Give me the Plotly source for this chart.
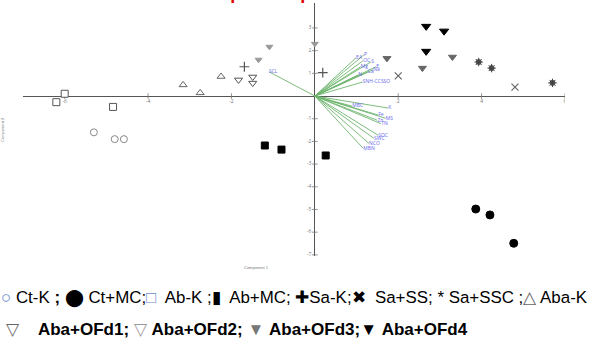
import plotly.graph_objects as go

# ---- sample scores (Component 1, Component 2) ----
ctk_x = [-5.3, -4.8, -4.58]
ctk_y = [-1.6, -1.9, -1.9]
ctmc_x = [3.86, 4.2, 4.77]
ctmc_y = [-4.98, -5.24, -6.49]
abk_x = [-6.0, -6.2, -4.84]
abk_y = [0.1, -0.27, -0.48]
abmc_x = [-1.2, -0.8, 0.26]
abmc_y = [-2.18, -2.36, -2.62]
sak_x = [-1.69, 0.19]
sak_y = [1.29, 1.03]
sass_x = [2.0, 4.8]
sass_y = [0.89, 0.39]
sassc_x = [3.93, 4.24, 5.7]
sassc_y = [1.5, 1.23, 0.58]
abak_x = [-3.16, -2.75, -2.25]
abak_y = [0.49, 0.14, 0.86]
ofd1_x = [-1.83, -1.49, -1.49]
ofd1_y = [0.71, 0.84, 0.57]
ofd2_x = [-1.09, -1.35, 0.0]
ofd2_y = [2.17, 1.6, 2.3]
ofd3_x = [1.73, 3.3, 2.58]
ofd3_y = [1.66, 1.72, 1.23]
ofd4_x = [2.67, 3.1, 2.67]
ofd4_y = [3.07, 2.86, 1.97]

# ---- variable loadings ----
load_names = ["EA", "P", "OC", "S", "E", "Mg", "Na", "Ca", "N", "SNH-CCSSO",
              "MBC", "K", "Fe", "MS", "Zn", "TN", "SOC", "SWC", "NCO", "MBN", "SCL"]
load_x = [0.99, 1.18, 1.16, 1.35, 1.47, 1.1, 1.4, 1.27, 1.04, 1.15,
          0.9, 1.76, 1.52, 1.7, 1.5, 1.59, 1.52, 1.42, 1.3, 1.16, -1.1]
load_y = [1.69, 1.82, 1.56, 1.51, 1.29, 1.29, 1.16, 1.07, 0.93, 0.62,
          -0.45, -0.53, -0.84, -0.98, -1.07, -1.22, -1.73, -1.87, -2.09, -2.31, 1.07]

# ---- axis ticks ----
xticks = [-6, -4, -2, 2, 4, 6]
yticks = [-7, -6, -5, -4, -3, -2, -1, 1, 2, 3]

fig = go.Figure()

# loading vectors
vx, vy = [], []
for lx, ly in zip(load_x, load_y):
    vx += [0, lx, None]
    vy += [0, ly, None]
fig.add_trace(go.Scatter(x=vx, y=vy, mode="lines",
                         line=dict(color="#6db46d", width=0.9), hoverinfo="skip"))
fig.add_trace(go.Scatter(x=load_x, y=load_y, mode="text", text=load_names,
                         textposition="middle right",
                         textfont=dict(size=5, color="#6a6af0"), hoverinfo="skip"))

# tick marks and tick labels on the crossing axes
fig.add_trace(go.Scatter(x=xticks, y=[0] * len(xticks), mode="markers+text",
                         marker=dict(symbol="line-ns", size=4, line=dict(width=0.8, color="#777")),
                         text=[str(t) for t in xticks], textposition="bottom center",
                         textfont=dict(size=5, color="#777"), hoverinfo="skip"))
fig.add_trace(go.Scatter(x=[0] * len(yticks), y=yticks, mode="markers+text",
                         marker=dict(symbol="line-ew", size=4, line=dict(width=0.8, color="#777")),
                         text=[str(t) for t in yticks], textposition="middle left",
                         textfont=dict(size=5, color="#777"), hoverinfo="skip"))

def pts(x, y, symbol, color, fill, size=7, lw=1):
    fig.add_trace(go.Scatter(x=x, y=y, mode="markers",
                             marker=dict(symbol=symbol, size=size, color=fill,
                                         line=dict(color=color, width=lw))))

pts(ctk_x, ctk_y, "circle", "#888", "white", 7, 1)
pts(ctmc_x, ctmc_y, "circle", "black", "black", 8, 1)
pts(abk_x, abk_y, "square", "#555", "white", 7, 1)
pts(abmc_x, abmc_y, "square", "black", "black", 7, 1)
pts(sak_x, sak_y, "cross-thin", "#555", "#555", 7, 1.2)
pts(sass_x, sass_y, "x-thin", "#666", "#666", 7, 1.2)
pts(sassc_x, sassc_y, "circle", "#555", "#555", 5, 1)
pts(sassc_x, sassc_y, "asterisk", "#444", "#444", 7, 1)
pts(abak_x, abak_y, "triangle-up", "#666", "white", 7, 1)
pts(ofd1_x, ofd1_y, "triangle-down", "#555", "white", 7, 1)
pts(ofd2_x, ofd2_y, "triangle-down", "#999", "#999", 6, 1)
pts(ofd3_x, ofd3_y, "triangle-down", "#666", "#666", 7, 1)
pts(ofd4_x, ofd4_y, "triangle-down", "black", "black", 8, 1)

# ---- texts ----
legend1 = ("<span style='color:#5b7fc8'>○</span> Ct-K <b>;</b> "
           "⬤ Ct+MC;"
           "<span style='color:#6d8ccf'>□</span>  Ab-K ;▮  Ab+MC; "
           "✚Sa-K;✖  Sa+SS; * Sa+SSC ;"
           "<span style='color:#666'>△</span> Aba-K")
legend2 = ("<span style='color:#666'>▽</span>&nbsp;&nbsp;&nbsp;&nbsp;<b>Aba+OFd1;</b> "
           "<span style='color:#999'>▽</span> <b>Aba+OFd2;</b> "
           "<span style='color:#777'>▼</span> <b>Aba+OFd3;</b>"
           "▼ <b>Aba+OFd4</b>")

fig.add_annotation(text=legend1, xref="paper", yref="paper", x=-0.045, y=-0.165,
                   xanchor="left", yanchor="middle", showarrow=False,
                   font=dict(family="Liberation Sans, Arial", size=16.9, color="black"))
fig.add_annotation(text=legend2, xref="paper", yref="paper", x=-0.035, y=-0.29,
                   xanchor="left", yanchor="middle", showarrow=False,
                   font=dict(family="Liberation Sans, Arial", size=17, color="black"))
fig.add_annotation(text="Component 1", xref="paper", yref="paper", x=0.43, y=-0.045,
                   xanchor="center", yanchor="middle", showarrow=False,
                   font=dict(family="Liberation Sans", size=4, color="#777"))
fig.add_annotation(text="Component 2", xref="paper", yref="paper", x=-0.038, y=0.5,
                   xanchor="center", yanchor="middle", showarrow=False, textangle=-90,
                   font=dict(family="Liberation Sans", size=4, color="#777"))
fig.add_annotation(text="<b>PCA  component  plot</b>", xref="paper", yref="paper",
                   x=0.40, y=1.0, xanchor="center", yanchor="bottom", yshift=-2,
                   showarrow=False,
                   font=dict(family="Liberation Sans", size=18, color="#e00000"))

fig.update_layout(
    width=598, height=341,
    margin=dict(l=23, r=33, t=3, b=85),
    paper_bgcolor="white", plot_bgcolor="white",
    showlegend=False,
    xaxis=dict(range=[-7, 6], showgrid=False, zeroline=True, zerolinecolor="#555",
               zerolinewidth=1, showticklabels=False, ticks=""),
    yaxis=dict(range=[-7.05, 4.1], showgrid=False, zeroline=True, zerolinecolor="#555",
               zerolinewidth=1, showticklabels=False, ticks=""),
)

fig.write_html("out.html", config={"displayModeBar": False},
               post_script="document.body.style.margin='0';document.body.style.padding='0';")
